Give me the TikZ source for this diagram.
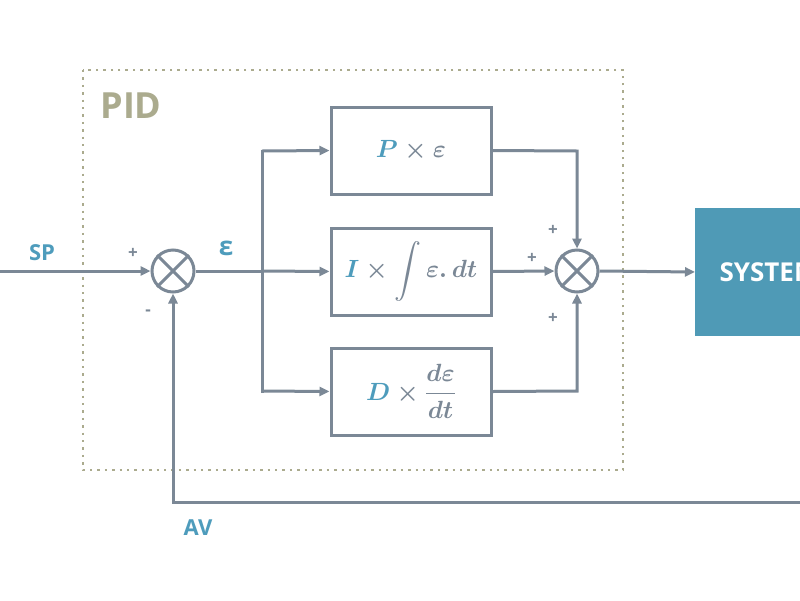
\documentclass[tikz,border=0pt]{standalone}
\usepackage{fontspec}
\usepackage{amsmath,amssymb,bm}
\setmainfont{Open Sans}
\usetikzlibrary{arrows.meta,positioning,calc}
\definecolor{lineg}{HTML}{7B8896}
\definecolor{blu}{HTML}{4E9CBC}
\definecolor{olv}{HTML}{ABAB8E}
\definecolor{sysc}{HTML}{4F9AB6}
\tikzset{
  wire/.style={draw=lineg, line width=3pt, -{Triangle[length=10pt,width=9pt]}},
  plain/.style={draw=lineg, line width=3pt},
  blk/.style={draw=lineg, line width=3pt, minimum width=160pt, minimum height=87pt, inner sep=0pt, text=lineg},
  summer/.style={draw=lineg, line width=3pt, circle, minimum size=42pt, inner sep=0pt},
  lbl/.style={text=blu, font=\fontsize{22}{24}\selectfont\bfseries},
  sgn/.style={text=lineg, font=\fontsize{17}{18}\selectfont\bfseries},
  mth/.style={font=\fontsize{27}{30}\selectfont\boldmath},
}
\newcommand{\crossit}[1]{\draw[plain] (#1.45)--(#1.225); \draw[plain] (#1.135)--(#1.315);}
\begin{document}
\begin{tikzpicture}[x=1pt,y=-1pt]
\useasboundingbox (0,0) rectangle (800,600);
\clip (0,0) rectangle (800,600);
\fill[white] (0,0) rectangle (800,600);
% PID frame
\draw[olv, line width=2.4pt, dash pattern=on 2.4pt off 5pt] (83,70) rectangle (623,470);
\node[text=olv, font=\fontsize{36}{38}\selectfont\bfseries, anchor=center] (pid) at (131,106) {PID};
% summers
\node[summer] (s1) at (173,271) {};
\crossit{s1}
\node[summer] (s2) at (577,271) {};
\crossit{s2}
% blocks
\node[blk, mth] (P) at (411,150.5) {$\color{blu}P\color{lineg}\times\varepsilon$};
\node[blk, mth] (I) at (411,271.5) {$\color{blu}I\color{lineg}\times\displaystyle\int\varepsilon.\,dt$};
\node[blk, mth] (D) at (411,391.5) {$\color{blu}D\color{lineg}\times\dfrac{d\varepsilon}{dt}$};
% system
\node[fill=sysc, minimum width=160pt, minimum height=128pt, anchor=west, inner sep=0pt] (sys) at (695,272) {};
\node[text=white, font=\fontsize{26}{28}\selectfont\bfseries, anchor=west] (syst) at (716,272) {SYSTEM};
% coordinates
\coordinate (in) at (0,271);
\coordinate (br) at (262,271);
\coordinate (brT) at (262,151);
\coordinate (brB) at (262,391);
\coordinate (pc) at (577,151);
\coordinate (dc) at (577,391);
\coordinate (fbR) at (800,502);
\coordinate (fbL) at (173,502);
% wires
\draw[wire] (in) -- (s1.west);
\draw[plain] (s1.east) -- (br);
\draw[plain, line cap=rect] (brT) -- (brB);
\draw[wire] (brT) -- (P.west);
\draw[wire] (br) -- (I.west);
\draw[wire] (brB) -- (D.west);
\draw[wire, line join=miter] (P.east) -- (pc) -- (s2.north);
\draw[wire] (I.east) -- (s2.west);
\draw[wire, line join=miter] (D.east) -- (dc) -- (s2.south);
\draw[wire] (s2.east) -- (sys.west);
\draw[wire, line join=miter] (fbR) -- (fbL) -- (s1.south);
% labels
\node[lbl] (sp) at (42,253) {SP};
\node[lbl] (av) at (198,528) {AV};
\node[text=blu, font=\fontsize{26}{28}\selectfont\bfseries] (eps) at (226,248) {ε};
\node[sgn] (p1) at (133,253) {+};
\node[sgn] (m1) at (148,313) {-};
\node[sgn] (p2) at (553,230) {+};
\node[sgn] (p3) at (532,258) {+};
\node[sgn] (p4) at (553,318) {+};
\end{tikzpicture}
\end{document}
